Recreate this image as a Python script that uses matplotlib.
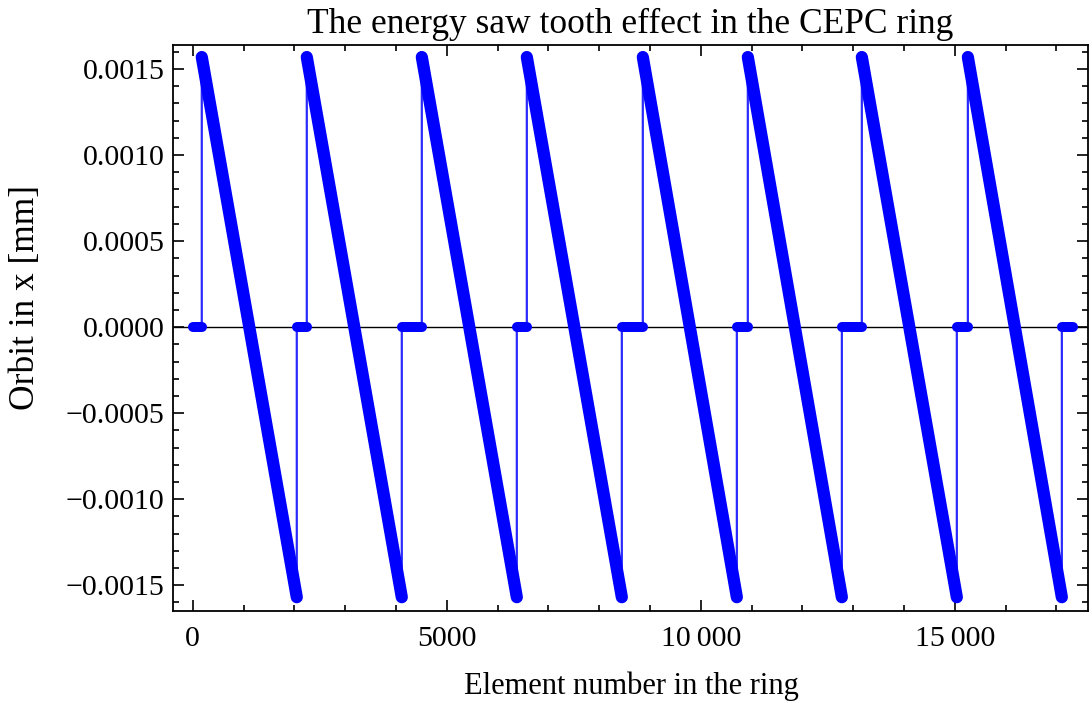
import numpy as np
import matplotlib
matplotlib.use("Agg")
import matplotlib.pyplot as plt
from matplotlib.ticker import MultipleLocator, FuncFormatter

# element numbers where the orbit jumps up (start of a tooth)
rise_x = [177, 2244, 4508, 6575, 8858, 10925, 13169, 15256]
# element numbers where the tooth reaches its minimum and drops back to 0
drop_x = [2047, 4114, 6378, 8445, 10709, 12776, 15039, 17106]
start_x = 0
end_x = 17323
peak = 0.00157

plt.rcParams['font.family'] = ['Liberation Serif', 'DejaVu Serif']

fig = plt.figure(figsize=(10.92, 7.03), dpi=100)
ax = fig.add_axes([0.1584, 0.1309, 0.8379, 0.8051])

# path of the whole orbit: zero stretch, jump up, linear fall, jump back to zero
px = [start_x]
py = [0.0]
for r, d in zip(rise_x, drop_x):
    px += [r, r, d, d]
    py += [0.0, peak, -peak, 0.0]
px.append(end_x)
py.append(0.0)

ax.axhline(0, color='black', lw=1.0, zorder=1)
ax.plot(px, py, color='#2a2aff', lw=1.6, zorder=2)

# thick parts where the data points are dense
zero_starts = [start_x] + drop_x
zero_ends = rise_x + [end_x]
for a, b in zip(zero_starts, zero_ends):
    ax.plot([a, b], [0, 0], color='#0000ff', lw=7.2, solid_capstyle='round', zorder=3)
for r, d in zip(rise_x, drop_x):
    ax.plot([r, d], [peak, -peak], color='#0000ff', lw=8.8, solid_capstyle='round', zorder=3)

ax.set_xlim(-390, 17620)
ax.set_ylim(-0.00165, 0.00164)

ax.xaxis.set_major_locator(MultipleLocator(5000))
ax.xaxis.set_minor_locator(MultipleLocator(1000))
ax.yaxis.set_major_locator(MultipleLocator(0.0005))
ax.yaxis.set_minor_locator(MultipleLocator(0.0001))


def fmt_x(v, pos):
    v = int(round(v))
    if v >= 10000:
        return '{:,}'.format(v).replace(',', '\u2009')
    return str(v)


def fmt_y(v, pos):
    s = '{:.4f}'.format(abs(v))
    if v < -1e-12:
        return '\u2212' + s
    return s


ax.xaxis.set_major_formatter(FuncFormatter(fmt_x))
ax.yaxis.set_major_formatter(FuncFormatter(fmt_y))

ax.tick_params(which='both', direction='in', top=True, right=True, width=1.2,
               labelsize=21.5, colors='black')
ax.tick_params(which='major', length=8)
ax.tick_params(which='minor', length=4.5)
ax.tick_params(axis='x', which='major', pad=11)
ax.tick_params(axis='y', which='major', pad=6)
for sp in ax.spines.values():
    sp.set_linewidth(1.3)

# labels placed in figure pixels
W, H = 1092.0, 703.0
fig.text(630 / W, 1 - 33 / H, 'The energy saw tooth effect in the CEPC ring',
         fontsize=25.5, ha='center', va='baseline')
fig.text(631 / W, 1 - 694 / H, 'Element number in the ring',
         fontsize=22, ha='center', va='baseline')
fig.text(26 / W, 1 - 298 / H, 'Orbit in x [mm]', fontsize=25.5,
         rotation=90, ha='center', va='center')

fig.savefig('out.png', dpi=100)
